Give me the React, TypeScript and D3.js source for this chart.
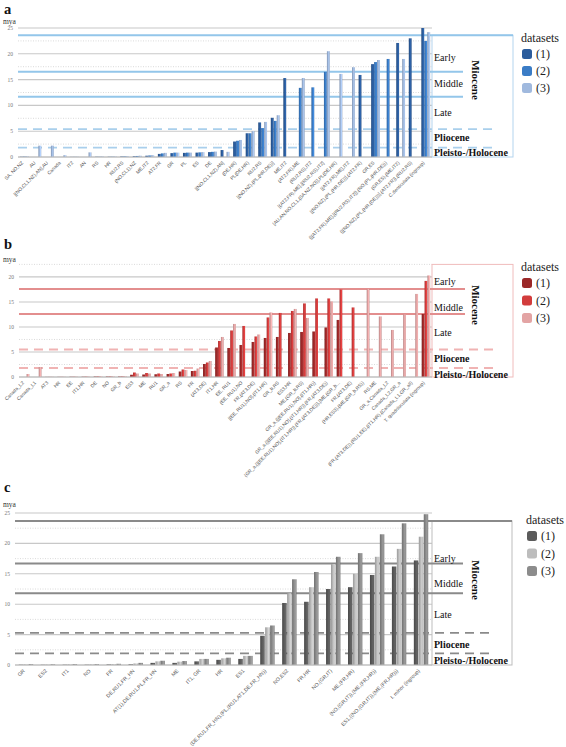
import React from "react";
import * as d3 from "d3";

const seriesNames = ["(1)", "(2)", "(3)"];
const epochNames = ["Early", "Middle", "Late", "Pliocene", "Pleisto-/Holocene"];

// ---------- Panel a ----------
const catsA = [
  "SA, NO,NZ", "AU", "[(NO,CL1,NZ),AN],AU", "Canada", "IT2", "AN", "RS", "HR", "RU2,RS",
  "(NO,CL1),NZ", "ME,IT2", "AT2,FR", "GR", "PL", "ES", "DE", "[(NO,CL1,NZ),AN]", "(DE,HR)",
  "PL(DE,HR)", "RU2,RS", "[(NO,NZ),(PL,(HR,DE))]", "ME,IT2", "(AT2,FR),ME", "(RU2,RS),IT2",
  "[(AT2,FR),ME],[(RU2,RS),IT2]", "[AU,AN,NO,CL1,(SA,NZ,NO)],PL(DE,HR)", "[(AT2,FR),ME],IT2",
  "[(NO,NZ),(PL,(HR,DE))],(AT2,FR)", "GR,ES", "{[(AT2,FR),ME],[(RU2,RS),IT2]},(NO,(PL,(HR,DE)))",
  "(GR,ES),(ME,IT2)", "{[(NO,NZ),(PL,(HR,(DE)))],(AT2,FR)},(RU2,RS)", "C.denticulata (ingroup)",
];
const a1 = [0.05, 0, 0, 0, 0.02, 0, 0.05, 0.05, 0.1, 0.15, 0.25, 0.6, 0.75, 0.8, 0.85, 0.95, 1.35, 3.0, 4.6, 6.7, 7.6, 15.3, 0, 0, 0, 0, 0, 15.9, 18.0, 0, 22.1, 23.0, 25.0];
const a2 = [0.08, 0, 0, 0, 0.03, 0, 0.05, 0.06, 0.12, 0.2, 0.3, 0.7, 0.85, 0.85, 0.9, 1.0, 0, 3.15, 4.6, 5.6, 7.0, 0, 13.4, 13.5, 16.5, 0, 0, 0, 18.4, 19.0, 0, 0, 22.5];
const a3 = [0.12, 2.2, 2.2, 0.35, 0.05, 0.9, 0.1, 0.1, 0.15, 0.25, 0.35, 0.8, 0.85, 0.85, 0.95, 1.05, 1.0, 3.3, 5.0, 6.8, 8.1, 0, 15.3, 0, 20.5, 16.1, 17.4, 0, 18.8, 0, 19.0, 0, 24.2];
const solidA = [23.6, 16.5, 11.7];
const dashedA = [5.4, 1.8];

// ---------- Panel b ----------
const catsB = [
  "Canada_L2", "Canada_L1", "AT3", "HR", "EE", "IT1,HR", "DE", "NO", "GR_b", "ES3", "ME", "RU1",
  "GR_a", "RS", "FR", "(AT3,DE)", "IT1,HR", "EE, RU1", "(EE, RU1),NO", "FR,(AT3,DE)",
  "[(EE, RU1),NO],(IT1,HR)", "GR_b,RS", "ES3,HR", "ME,(GR_b,RS)",
  "GR_a,{[(EE,RU1),NO],(IT1,HR)}", "GR_a,{[(EE,RU1),NO],(IT1,HR)},(FR,(AT3,DE))",
  "{GR_a,{[(EE,RU1),NO],(IT1,HR)},(FR,(AT3,DE))},[ME,(GR_b...", "FR,(AT3,DE)",
  "(HR,ES3),(ME,(GR_b,RS))", "RS,ME", "GR_a,Canada_L2", "Canada_L2,GR_a",
  "(FR,(AT3,DE)),(RU1,EE),(IT1,HR),(Canada_L1,GR_all)", "T. quadriloculata (ingroup)",
];
const b1 = [0, 0, 0.02, 0.03, 0.05, 0.06, 0.1, 0.1, 0.1, 0.45, 0.5, 0.55, 0.6, 1.1, 1.2, 2.6, 5.9, 5.8, 6.4, 7.0, 7.8, 8.0, 8.8, 9.0, 9.1, 9.9, 11.4, 0, 0, 0, 0, 0, 0, 12.6];
const b2 = [0, 0, 0.03, 0.04, 0.06, 0.08, 0.12, 0.12, 0.12, 0.9, 0.8, 0.7, 0.7, 1.5, 1.25, 2.9, 7.2, 9.3, 10.2, 8.1, 11.9, 12.8, 13.2, 14.7, 15.7, 15.7, 17.5, 13.9, 0, 0, 0, 0, 0, 19.2];
const b3 = [0.6, 2.0, 0.05, 0.05, 0.08, 0.1, 0.15, 0.15, 0.15, 0.7, 0.7, 0.6, 0.8, 1.4, 1.7, 3.2, 8.0, 10.6, 0, 8.5, 12.9, 0, 13.6, 11.8, 0, 15.1, 0, 0, 17.6, 12.1, 9.4, 12.5, 16.6, 20.3];
const solidB = [17.6, 12.6];
const dashedB = [5.5, 1.8];

// ---------- Panel c ----------
const catsC = [
  "GR", "ES2", "IT1", "NO", "FR", "DE,RU1,FR_HN", "AT(1),DE,RU1,PL,FR_HN", "ME", "IT1, GR", "HR", "ES1",
  "(DE,RU1,FR_HN),(PL,(RU1,AT1,DE,FR_HN))", "NO,ES2", "FR,HR", "NO,(GR,IT)", "ME,(FR,HR)",
  "(NO,(GR,IT)),(ME,(FR,HR))", "ES1,((NO,(GR,IT)),(ME,(FR,HR)))", "I. minor (ingroup)",
];
const c1 = [0.05, 0.04, 0.05, 0.05, 0.1, 0.12, 0.35, 0.35, 0.6, 0.85, 1.0, 4.8, 10.2, 10.4, 12.5, 12.8, 14.8, 16.2, 17.2];
const c2 = [0.1, 0.08, 0.12, 0.12, 0.15, 0.25, 0.6, 0.55, 1.0, 1.1, 1.5, 6.2, 11.8, 12.8, 16.6, 15.0, 17.8, 19.1, 21.1];
const c3 = [0.15, 0.12, 0.15, 0.15, 0.2, 0.35, 0.7, 0.65, 1.0, 1.2, 1.5, 6.5, 14.1, 15.3, 17.8, 18.4, 21.5, 23.3, 24.8];
const solidC = [23.7, 16.7, 11.8];
const dashedC = [5.3, 1.9];

type Cfg = {
  id: string;
  letter: string;
  letterY: number;
  myaY: number;
  cats: string[];
  s: number[][];
  yMax: number;
  top: number;
  bottom: number;
  left: number;
  right: number;
  boxTop: number;
  boxRight: number;
  lineEnd: number;
  dashEnd: number;
  solid: number[];
  dashed: number[];
  colors: string[];
  lineColor: string;
  dashColor: string;
  boxStroke: string;
  padIn: number;
  barPad: number;
  labelFont: number;
  labelYs: number[];
  mioY: number;
  legX: number;
  legY: number;
  legStep: number;
};

const font = "'Liberation Serif', 'Times New Roman', serif";

function Panel({ cfg }: { cfg: Cfg }) {
  const x0 = d3
    .scaleBand<number>()
    .domain(cfg.cats.map((_, i) => i))
    .range([cfg.left, cfg.right])
    .paddingInner(cfg.padIn)
    .paddingOuter(cfg.padIn / 2);
  const x1 = d3.scaleBand<number>().domain([0, 1, 2]).range([0, x0.bandwidth()]).padding(cfg.barPad);
  const y = d3.scaleLinear().domain([0, cfg.yMax]).range([cfg.bottom, cfg.top]);
  const majors = d3.range(0, cfg.yMax + 0.01, 5);
  const minors = d3.range(2.5, cfg.yMax + 0.01, 5);
  const base = y(0);
  return (
    <g fontFamily={font}>
      <defs>
        {cfg.colors.map((c, i) => {
          const col = d3.color(c)!;
          return (
            <linearGradient key={i} id={`${cfg.id}g${i}`} x1="0" x2="1" y1="0" y2="0">
              <stop offset="0%" stopColor={col.darker(0.6).formatHex()} />
              <stop offset="45%" stopColor={c} />
              <stop offset="75%" stopColor={col.brighter(0.35).formatHex()} />
              <stop offset="100%" stopColor={col.darker(0.5).formatHex()} />
            </linearGradient>
          );
        })}
      </defs>
      <text x={4} y={cfg.letterY} fontSize={14.5} fontWeight="bold" fill="#111">
        {cfg.letter}
      </text>
      <text x={3} y={cfg.myaY} fontSize={7.5} fill="#333">
        mya
      </text>
      {minors.map((v) => (
        <line key={"mi" + v} x1={cfg.left} x2={cfg.right} y1={y(v)} y2={y(v)} stroke="#d6d6d6" strokeWidth={0.9} strokeDasharray="1,1.5" />
      ))}
      {majors.map((v) => (
        <g key={"ma" + v}>
          <line x1={cfg.left} x2={cfg.right} y1={y(v)} y2={y(v)} stroke="#c8c8c8" strokeWidth={1.1} />
          <text x={cfg.left - 5} y={y(v)} dy="0.35em" fontSize={5.5} fill="#777" textAnchor="end">
            {v}
          </text>
        </g>
      ))}
      <rect
        x={cfg.right}
        y={y(cfg.boxTop)}
        width={cfg.boxRight - cfg.right}
        height={base - y(cfg.boxTop)}
        fill="none"
        stroke={cfg.boxStroke}
        strokeWidth={1}
      />
      {cfg.solid.map((v) => (
        <line
          key={"so" + v}
          x1={cfg.left}
          x2={Math.abs(v - cfg.boxTop) < 0.01 ? cfg.boxRight : cfg.lineEnd}
          y1={y(v)}
          y2={y(v)}
          stroke={cfg.lineColor}
          strokeWidth={2}
        />
      ))}
      {cfg.dashed.map((v) => (
        <line key={"da" + v} x1={cfg.left} x2={cfg.dashEnd} y1={y(v)} y2={y(v)} stroke={cfg.dashColor} strokeWidth={1.8} strokeDasharray="9,6" />
      ))}
      {cfg.cats.map((_, i) => (
        <g key={"bar" + i} transform={`translate(${x0(i)},0)`}>
          {cfg.s.map((ser, k) =>
            ser[i] > 0 ? (
              <rect
                key={k}
                x={x1(k)}
                y={y(ser[i])}
                width={x1.bandwidth()}
                height={base - y(ser[i])}
                fill={`url(#${cfg.id}g${k})`}
              />
            ) : null
          )}
        </g>
      ))}
      <line x1={cfg.left} x2={cfg.right} y1={base} y2={base} stroke="#bdbdbd" strokeWidth={1} />
      {cfg.cats.map((c, i) => {
        const cx = x0(i)! + x0.bandwidth() / 2;
        return (
          <text
            key={"lab" + i}
            transform={`translate(${cx - 2},${base + 5}) rotate(-45)`}
            textAnchor="end"
            dy="0.35em"
            fontSize={cfg.labelFont}
            fill="#555"
            fontFamily="'Liberation Sans', Arial, sans-serif"
          >
            {c}
          </text>
        );
      })}
      {epochNames.map((n, i) => (
        <text key={n} x={cfg.right + 2} y={cfg.labelYs[i]} fontSize={10} fontWeight={i >= 3 ? "bold" : "normal"} fill="#111">
          {n}
        </text>
      ))}
      <text
        transform={`translate(${cfg.right + 44},${cfg.mioY}) rotate(90)`}
        textAnchor="middle"
        dy="0.35em"
        fontSize={11}
        fontWeight="bold"
        fill="#111"
      >
        Miocene
      </text>
      <text x={cfg.legX} y={cfg.legY} fontSize={12} fill="#222">
        datasets
      </text>
      {seriesNames.map((n, k) => (
        <g key={n} transform={`translate(${cfg.legX + 1},${cfg.legY + 7 + k * cfg.legStep})`}>
          <rect width={10} height={10} rx={2.5} fill={cfg.colors[k]} />
          <text x={14} y={9} fontSize={12} fill="#222">
            {n}
          </text>
        </g>
      ))}
    </g>
  );
}

const cfgA: Cfg = {
  id: "pa", letter: "a", letterY: 13.5, myaY: 24, cats: catsA, s: [a1, a2, a3], yMax: 25, top: 28, bottom: 157,
  left: 18, right: 432, boxTop: 23.6, boxRight: 513, lineEnd: 463, dashEnd: 493, solid: solidA, dashed: dashedA,
  colors: ["#2b5c9c", "#3a7cc6", "#a0b9de"], lineColor: "#93c6ea", dashColor: "#a9cfec", boxStroke: "#b3d4ee",
  padIn: 0.28, barPad: 0.04, labelFont: 4.8, labelYs: [61, 87, 116, 141, 156], mioY: 80, legX: 521, legY: 42, legStep: 17,
};
const cfgB: Cfg = {
  id: "pb", letter: "b", letterY: 249, myaY: 262, cats: catsB, s: [b1, b2, b3], yMax: 22.5, top: 264.4, bottom: 377,
  left: 19, right: 432, boxTop: 22.5, boxRight: 513, lineEnd: 465, dashEnd: 493, solid: solidB, dashed: dashedB,
  colors: ["#9b2828", "#d23c3c", "#e3a4a4"], lineColor: "#e38e8e", dashColor: "#f0b3b3", boxStroke: "#f0bcbc",
  padIn: 0.28, barPad: 0.04, labelFont: 4.8, labelYs: [285, 311, 336, 362, 378], mioY: 305, legX: 521, legY: 271, legStep: 17.5,
};
const cfgC: Cfg = {
  id: "pc", letter: "c", letterY: 492, myaY: 507, cats: catsC, s: [c1, c2, c3], yMax: 25, top: 513, bottom: 665,
  left: 15, right: 432, boxTop: 23.7, boxRight: 512, lineEnd: 463, dashEnd: 492, solid: solidC, dashed: dashedC,
  colors: ["#5b5b5b", "#bdbdbd", "#8c8c8c"], lineColor: "#8a8a8a", dashColor: "#8a8a8a", boxStroke: "#bdbdbd",
  padIn: 0.3, barPad: 0.1, labelFont: 5.2, labelYs: [562, 587, 618, 648, 664], mioY: 580, legX: 526, legY: 524, legStep: 17.5,
};

export default function App() {
  return (
    <svg width={566} height={747} style={{ position: "absolute", left: 0, top: 0, background: "#fff" }}>
      <rect width={566} height={747} fill="#fff" />
      <Panel cfg={cfgA} />
      <Panel cfg={cfgB} />
      <Panel cfg={cfgC} />
    </svg>
  );
}
